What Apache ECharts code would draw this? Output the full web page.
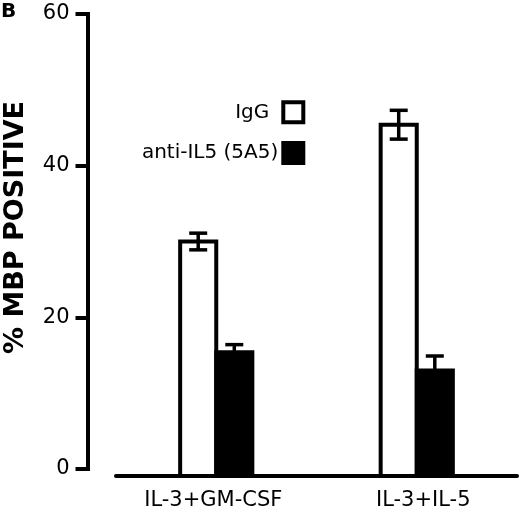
<!DOCTYPE html>
<html><head><meta charset="utf-8">
<script src="https://cdn.jsdelivr.net/npm/echarts@6/dist/echarts.min.js"></script>
<style>html,body{margin:0;padding:0;background:#fff}#c{width:520px;height:514px}</style>
</head><body><div id="c"></div>
<script>
const categories = ['IL-3+GM-CSF', 'IL-3+IL-5'];
const seriesNames = ['IgG', 'anti-IL5 (5A5)'];
const iggValues = [30.0, 45.4];
const iggErrors = [1.1, 1.9];
const antiValues = [15.4, 13.0];
const antiErrors = [1.0, 1.9];
const yTickLabels = ['0', '20', '40', '60'];

const FONT = '"DejaVu Sans", sans-serif';
const yMinBars = -0.923;

function barRender(fill, side) {
  return function (params, api) {
    const ci = api.value(0), v = api.value(1), e = api.value(2);
    const top = api.coord([ci, v]);
    const base = api.coord([ci, yMinBars]);
    const band = api.size([1, 0])[0];
    const w = band * 0.18;
    const x0 = side < 0 ? top[0] - w : top[0];
    const cx = x0 + w / 2;
    const hi = api.coord([ci, v + e]);
    const lo = api.coord([ci, v - e]);
    const capW = 18;
    const es = { stroke: '#000', lineWidth: 3.5 };
    return {
      type: 'group',
      children: [
        { type: 'rect', shape: { x: x0, y: top[1], width: w, height: base[1] - top[1] },
          style: { fill: fill, stroke: '#000', lineWidth: 4 } },
        { type: 'line', shape: { x1: cx, y1: hi[1], x2: cx, y2: lo[1] }, style: es },
        { type: 'line', shape: { x1: cx - capW / 2, y1: hi[1], x2: cx + capW / 2, y2: hi[1] }, style: es },
        { type: 'line', shape: { x1: cx - capW / 2, y1: lo[1], x2: cx + capW / 2, y2: lo[1] }, style: es }
      ]
    };
  };
}

const chart = echarts.init(document.getElementById('c'), null, { renderer: 'canvas' });
chart.setOption({
  animation: false,
  backgroundColor: '#fff',
  grid: [
    { left: 87.5, top: 14, width: 10, bottom: 45 },
    { left: 116, right: 3, top: 14, bottom: 38 }
  ],
  xAxis: [
    { gridIndex: 0, type: 'value', show: false },
    { gridIndex: 1, type: 'category', data: categories,
      axisLine: { onZero: false, lineStyle: { color: '#000', width: 4 } },
      axisTick: { show: false },
      axisLabel: { interval: 0, hideOverlap: false, color: '#000', fontSize: 21, fontFamily: FONT, margin: 14,
        formatter: function (v, i) { return i === 0 ? '{a|' + v + '}' : '{b|' + v + '}'; },
        rich: {
          a: { fontSize: 21, fontFamily: FONT, color: '#000', padding: [0, 6, 0, 0] },
          b: { fontSize: 21, fontFamily: FONT, color: '#000', padding: [0, 0, 0, 13] }
        } }
    }
  ],
  yAxis: [
    { gridIndex: 0, type: 'value', min: 0, max: 60, interval: 20,
      axisLine: { show: true, lineStyle: { color: '#000', width: 4, cap: 'square' } },
      axisTick: { show: true, length: 12, lineStyle: { color: '#000', width: 4 } },
      axisLabel: { color: '#000', fontSize: 21, fontFamily: FONT, margin: 18,
        formatter: function (v) { return yTickLabels[Math.round(v / 20)]; } },
      splitLine: { show: false }
    },
    { gridIndex: 1, type: 'value', min: yMinBars, max: 60, show: false, splitLine: { show: false } }
  ],
  legend: {
    orient: 'vertical', align: 'right', right: 214.7, top: 100.3, padding: 0,
    itemWidth: 20, itemHeight: 20, itemGap: 16.7, icon: 'rect',
    data: [
      { name: seriesNames[0], itemStyle: { color: '#fff', borderColor: '#000', borderWidth: 4 } },
      { name: seriesNames[1], itemStyle: { color: '#000', borderColor: '#000', borderWidth: 4 } }
    ],
    formatter: function (name) { return name === seriesNames[0] ? '{p|' + name + '}' : '{q|' + name + '}'; },
    textStyle: { fontSize: 20, fontFamily: FONT, color: '#000',
      rich: {
        p: { fontSize: 20, fontFamily: FONT, color: '#000', padding: [0, 9, 0, 0] },
        q: { fontSize: 20, fontFamily: FONT, color: '#000' }
      } }
  },
  series: [
    { name: seriesNames[0], type: 'custom', xAxisIndex: 1, yAxisIndex: 1,
      itemStyle: { color: '#fff', borderColor: '#000', borderWidth: 4 },
      renderItem: barRender('#fff', -1), encode: { x: 0, y: 1 },
      data: categories.map((c, i) => [i, iggValues[i], iggErrors[i]]) },
    { name: seriesNames[1], type: 'custom', xAxisIndex: 1, yAxisIndex: 1,
      itemStyle: { color: '#000', borderColor: '#000', borderWidth: 4 },
      renderItem: barRender('#000', 1), encode: { x: 0, y: 1 },
      data: categories.map((c, i) => [i, antiValues[i], antiErrors[i]]) }
  ],
  graphic: [
    { type: 'text', x: 16, y: 227.5, rotation: Math.PI / 2,
      style: { text: '% MBP POSITIVE', fontSize: 27, fontWeight: 'bold', fontFamily: FONT, textAlign: 'center', textVerticalAlign: 'middle', fill: '#000' } },
    { type: 'text', left: 1, top: 2,
      style: { text: 'B', fontSize: 20, fontWeight: 'bold', fontFamily: FONT, fill: '#000' } }
  ]
});
</script></body></html>
